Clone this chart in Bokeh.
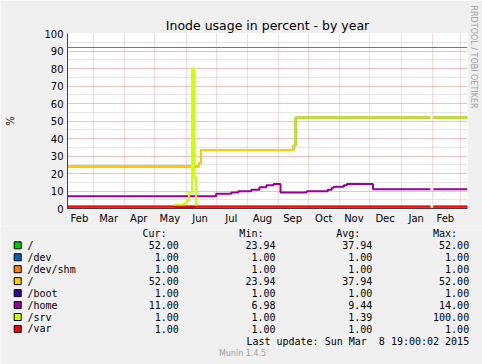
import pandas as pd
from bokeh.plotting import figure
from bokeh.models import (Range1d, FixedTicker, SingleIntervalTicker, DatetimeTickFormatter,
                          Span, Title)
from bokeh.core.properties import value
from bokeh.embed import file_html
from bokeh.resources import INLINE

# ---------------- data ----------------
title_text = "Inode usage in percent - by year"
x_start = "2014-02-03 03:00"
x_end = "2015-03-08 00:00"
gap_start = "2015-01-30"
gap_end = "2015-02-02"

month_starts = ["2014-03-01", "2014-04-01", "2014-05-01", "2014-06-01", "2014-07-01",
                "2014-08-01", "2014-09-01", "2014-10-01", "2014-11-01", "2014-12-01",
                "2015-01-01", "2015-02-01", "2015-03-01"]
month_mids = ["2014-02-15", "2014-03-16", "2014-04-15", "2014-05-16", "2014-06-15",
              "2014-07-16", "2014-08-16", "2014-09-15", "2014-10-16", "2014-11-15",
              "2014-12-16", "2015-01-16", "2015-02-14"]

root_dates = ["2014-02-03", "2014-06-14", "2014-06-16", "2014-09-16", "2014-09-18"]
root_values = [24.0, 26.0, 33.5, 36.0, 52.0]

home_dates = ["2014-02-03", "2014-07-01", "2014-07-16", "2014-07-23", "2014-08-05",
              "2014-08-13", "2014-08-20", "2014-08-27", "2014-09-03", "2014-09-29",
              "2014-10-20", "2014-10-24", "2014-10-26", "2014-11-05", "2014-11-08",
              "2014-12-04"]
home_values = [7.0, 8.4, 9.1, 9.9, 10.7, 12.2, 13.3, 14.0, 9.2, 9.8,
               10.7, 11.8, 12.4, 13.3, 14.0, 11.0]

srv_dates = ["2014-02-03", "2014-05-21", "2014-05-30", "2014-06-02", "2014-06-04",
             "2014-06-07", "2014-06-09", "2014-06-11"]
srv_values = [1.0, 2.2, 3.0, 4.6, 9.3, 80.0, 17.9, 1.0]

flat_dates = ["2014-02-03"]
flat_values = [1.0]

warning_level = 92

legend_labels = ["/", "/dev", "/dev/shm", "/", "/boot", "/home", "/srv", "/var"]
legend_colors = ["#00CC00", "#0066B3", "#FF8000", "#FFCC00", "#330099", "#990099", "#CCFF00", "#FF0000"]
cur_vals = [52.00, 1.00, 1.00, 52.00, 1.00, 11.00, 1.00, 1.00]
min_vals = [23.94, 1.00, 1.00, 23.94, 1.00, 6.98, 1.00, 1.00]
avg_vals = [37.94, 1.00, 1.00, 37.94, 1.00, 9.44, 1.39, 1.00]
max_vals = [52.00, 1.00, 1.00, 52.00, 1.00, 14.00, 100.00, 1.00]
column_heads = ["Cur:", "Min:", "Avg:", "Max:"]
series_data = [(root_dates, root_values), (flat_dates, flat_values), (flat_dates, flat_values),
               (root_dates, root_values), (flat_dates, flat_values), (home_dates, home_values),
               (srv_dates, srv_values), (flat_dates, flat_values)]
last_update = "Last update: Sun Mar  8 19:00:02 2015"
munin_version = "Munin 1.4.5"
rrd_credit = "RRDTOOL / TOBI OETIKER"
y_label = "%"


def ms(d):
    return pd.Timestamp(d).value / 1e6


def step_xy(dates, vals):
    t0, t1 = ms(x_start), ms(x_end)
    gs, ge = ms(gap_start), ms(gap_end)
    ts = [max(ms(d), t0) for d in dates] + [t1]
    xs, ys = [], []
    for i, v in enumerate(vals):
        a, b = ts[i], ts[i + 1]
        for lo, hi in ((a, min(b, gs)), (max(a, ge), b)):
            if hi > lo:
                if lo == ge and xs:
                    xs.append(float("nan")); ys.append(float("nan"))
                xs += [lo, hi]; ys += [v, v]
    return xs, ys


BG = "#F0F0F0"
AXIS = "#404040"
GRAYTXT = "#A0A0A0"

# ---------------- chart (page y 0..226) ----------------
p = figure(width=482, height=226, x_axis_type="datetime",
           x_range=Range1d(ms(x_start), ms(x_end)), y_range=Range1d(0, 100),
           toolbar_location=None, output_backend="svg",
           min_border_left=67, min_border_right=15, min_border_top=33, min_border_bottom=18)
p.background_fill_color = "white"
p.border_fill_color = BG
p.outline_line_color = None

# spacer next to the frame, real title outside it
p.title.text = " "
p.title.text_font_size = "1px"
p.title.standoff = 9
p.add_layout(Title(text=title_text, align="center", text_font="DejaVu Sans",
                   text_font_size="12.5px", text_font_style="normal", text_color="black",
                   standoff=2), "above")

p.yaxis.ticker = SingleIntervalTicker(interval=10, num_minor_ticks=2)
p.ygrid.ticker = SingleIntervalTicker(interval=10, num_minor_ticks=2)
p.ygrid.grid_line_color = "#FF0000"
p.ygrid.grid_line_alpha = 0.3
p.ygrid.grid_line_dash = "1 1"
p.ygrid.minor_grid_line_color = "#A0A0A0"
p.ygrid.minor_grid_line_alpha = 0.55
p.ygrid.minor_grid_line_dash = "1 1"

p.xgrid.ticker = FixedTicker(ticks=[ms(d) for d in month_starts])
p.xgrid.grid_line_color = "#FF0000"
p.xgrid.grid_line_alpha = 0.3
p.xgrid.grid_line_dash = "1 1"

p.xaxis.ticker = FixedTicker(ticks=[ms(d) for d in month_mids])
p.xaxis.formatter = DatetimeTickFormatter(days="%b", months="%b", years="%b")

for ax in (p.xaxis, p.yaxis):
    ax.axis_line_color = AXIS
    ax.major_tick_in = 0
    ax.major_tick_out = 0
    ax.minor_tick_in = 0
    ax.minor_tick_out = 0
    ax.major_label_text_font = "DejaVu Sans"
    ax.major_label_text_font_size = "10px"
    ax.major_label_text_color = "black"
    ax.major_label_standoff = 4

p.yaxis.axis_label = y_label
p.yaxis.axis_label_text_font = "DejaVu Sans"
p.yaxis.axis_label_text_font_size = "10px"
p.yaxis.axis_label_text_font_style = "normal"
p.yaxis.axis_label_text_color = "black"
p.yaxis.axis_label_standoff = 25

p.add_layout(Title(text=rrd_credit, align="left", offset=-28, text_font="DejaVu Sans",
                   text_font_size="8px", text_font_style="normal", text_color=GRAYTXT,
                   standoff=2), "right")

p.add_layout(Span(location=warning_level, dimension="width", line_color="#22B022", line_width=1))

for (d, v), c in zip(series_data, legend_colors):
    xs, ys = step_xy(d, v)
    p.line(xs, ys, line_color=c, line_width=2)

# ---------------- legend block (page y 226..364) ----------------
OY = 226
q = figure(width=482, height=364 - OY, x_range=Range1d(0, 482), y_range=Range1d(364 - OY, 0),
           toolbar_location=None, output_backend="svg", min_border=0)
q.axis.visible = False
q.grid.visible = False
q.outline_line_color = None
q.background_fill_color = BG
q.border_fill_color = BG

mono = value("DejaVu Sans Mono")
n = len(legend_labels)
row_y = [244.8 + 11.95 * i - OY for i in range(n)]
CW = 6.05          # monospace cell width
X0 = 27            # first text column

q.text(x=[X0 + CW * c for c in (23, 39, 55, 71)], y=[232.5 - OY] * 4, text=column_heads,
       text_font=mono, text_font_size="10px", text_align="right", text_baseline="middle",
       text_color="black")
q.rect(x=[17.2] * n, y=row_y, width=7, height=7,
       fill_color=legend_colors, line_color="black", line_width=1)
q.text(x=[X0] * n, y=row_y, text=legend_labels, text_font=mono,
       text_font_size="10px", text_align="left", text_baseline="middle", text_color="black")
for col, vals in ((25, cur_vals), (41, min_vals), (57, avg_vals), (73, max_vals)):
    q.text(x=[X0 + CW * col] * n, y=row_y, text=["%.2f" % v for v in vals],
           text_font=mono, text_font_size="10px", text_align="right",
           text_baseline="middle", text_color="black")
q.text(x=[X0 + CW * 73], y=[341 - OY], text=[last_update.replace(" ", "\u00a0")], text_font=mono,
       text_font_size="10px", text_align="right", text_baseline="middle", text_color="black")
q.text(x=[242], y=[353 - OY], text=[munin_version], text_font=value("DejaVu Sans"),
       text_font_size="8px", text_align="center", text_baseline="middle", text_color=GRAYTXT)

open("out.html", "w").write(file_html([p, q], INLINE))
